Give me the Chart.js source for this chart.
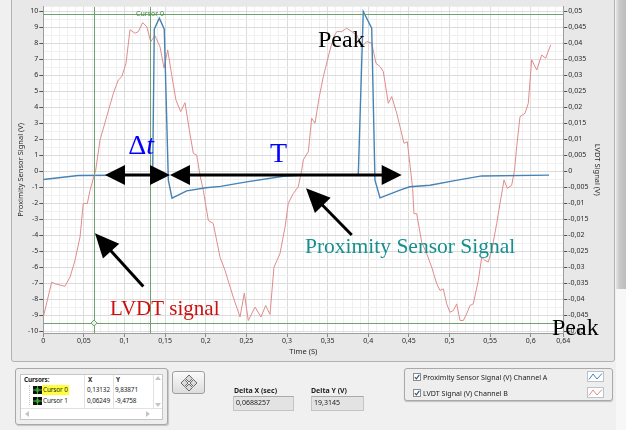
<!DOCTYPE html>
<html>
<head>
<meta charset="utf-8">
<script src="https://cdn.jsdelivr.net/npm/chart.js@4.4.1/dist/chart.umd.min.js"></script>
<style>
  html, body { margin: 0; padding: 0; }
  body { width: 626px; height: 430px; background: #f0f0f0; position: relative; overflow: hidden;
         font-family: 'Noto Sans', sans-serif; color: #1c1c1c; }
  .abs { position: absolute; }
  .txt { position: absolute; font-size: 7px; line-height: 10px; white-space: nowrap; }
  .b { font-weight: bold; }
  #chart { position: absolute; left: 0; top: 0; }
</style>
</head>
<body>
<!-- graph panel and side strip -->
<div class="abs" style="left:11px;top:-2px;width:602px;height:362px;background:#e8e8e8;border:1px solid #b3b3b3;border-radius:0 0 3px 3px"></div>
<div class="abs" style="left:616px;top:0;width:10px;height:289px;background:linear-gradient(to right,#e4e4e4,#c9c9c9 35%,#bdbdbd)"></div>
<div class="abs" style="left:616px;top:289px;width:10px;height:141px;background:#f7f7f7"></div>

<canvas id="chart" width="626" height="430"></canvas>

<!-- cursor list -->
<div class="abs" style="left:15px;top:368px;width:151px;height:55px;border:1px solid #a8a8a8;border-radius:3px;background:#eeeeee;box-shadow:1px 1px 1px rgba(0,0,0,.18)"></div>
<div class="abs" id="cursorTable" style="left:20px;top:374px;width:141px;height:44px;background:#fff;border:1px solid #c6c6c6"></div>

<!-- cursor move button -->
<div class="abs" style="left:172px;top:371px;width:31px;height:21px;border:1px solid #9f9f9f;border-radius:3px;background:linear-gradient(#fbfbfb,#dcdcdc)">
  <svg class="abs" style="left:7px;top:2px" width="18" height="18" viewBox="0 0 18 18">
    <g fill="#dadada" stroke="#4d4d4d" stroke-width="0.8">
      <path d="M9 1 L12.5 4.5 L9 8 L5.5 4.5Z"/><path d="M13.5 5.5 L17 9 L13.5 12.5 L10 9Z"/>
      <path d="M9 10 L12.5 13.5 L9 17 L5.5 13.5Z"/><path d="M4.5 5.5 L8 9 L4.5 12.5 L1 9Z"/>
    </g>
  </svg>
</div>

<!-- delta readouts -->
<div class="txt b" style="left:234px;top:386px">Delta X (sec)</div>
<div class="abs" style="left:233px;top:396px;width:59px;height:13px;background:#e3e3e3;border:1px solid #c4c4c4;border-top-color:#a9a9a9"></div>
<div class="txt" id="dx" style="left:236px;top:398px"></div>
<div class="txt b" style="left:311px;top:386px">Delta Y (V)</div>
<div class="abs" style="left:311px;top:396px;width:51px;height:13px;background:#e3e3e3;border:1px solid #c4c4c4;border-top-color:#a9a9a9"></div>
<div class="txt" id="dy" style="left:314px;top:398px"></div>

<!-- plot legend -->
<div class="abs" id="legendBox" style="left:404px;top:368px;width:207px;height:31px;border:1px solid #a9a9a9;border-radius:3px;background:#eeeeee;box-shadow:0 1px 1px rgba(0,0,0,.2)"></div>

<script>
// Proximity sensor channel (V), plotted on the left axis
const proxTime = [0, 0.043, 0.1346, 0.1366, 0.1428, 0.1489, 0.1539, 0.1584, 0.1765, 0.2,
                  0.218, 0.2503, 0.2954, 0.32, 0.3877, 0.3938, 0.4042, 0.4082, 0.4144, 0.439,
                  0.451, 0.476, 0.5046, 0.5396, 0.6225];
const proxSignal = [-0.5, -0.25, -0.22, 8.9, 9.58, 8.89, -0.55, -1.67, -1.21, -1.02,
                    -0.93, -0.65, -0.3, -0.23, -0.2, 10.0, 8.95, -0.55, -1.65, -1.17,
                    -0.96, -0.86, -0.59, -0.28, -0.23];

// LVDT channel (V), plotted on the right axis
const lvdtTime = [0, 0.0103, 0.0144, 0.0267, 0.0329, 0.039, 0.0452, 0.0492, 0.0542, 0.0575,
                  0.0645, 0.0698, 0.078, 0.0862, 0.0923, 0.0965, 0.1018, 0.1067, 0.1129, 0.1169,
                  0.1223, 0.1273, 0.1322, 0.1375, 0.1436, 0.1486, 0.1531, 0.158, 0.1633, 0.1691,
                  0.1744, 0.1797, 0.1846, 0.1888, 0.1929, 0.1969, 0.2031, 0.2092, 0.2175, 0.2236,
                  0.2338, 0.2421, 0.2474, 0.2523, 0.2606, 0.2679, 0.2737, 0.279, 0.2839, 0.2913,
                  0.2975, 0.3015, 0.3077, 0.3138, 0.318, 0.32, 0.3262, 0.3303, 0.3344, 0.3397,
                  0.3446, 0.3529, 0.3578, 0.3611, 0.3673, 0.3734, 0.3796, 0.3857, 0.3919, 0.398,
                  0.4042, 0.4095, 0.4144, 0.4185, 0.4246, 0.4288, 0.435, 0.439, 0.4439, 0.448,
                  0.4534, 0.4546, 0.4562, 0.4596, 0.4657, 0.4719, 0.478, 0.4842, 0.4882, 0.4923,
                  0.4965, 0.5005, 0.5046, 0.5088, 0.5129, 0.5169, 0.5211, 0.5252, 0.5292, 0.5354,
                  0.5396, 0.5436, 0.5477, 0.5519, 0.558, 0.5621, 0.567, 0.5711, 0.5765, 0.58,
                  0.5826, 0.5867, 0.5929, 0.5969, 0.6011, 0.6073, 0.6134, 0.6183, 0.6245];
const lvdtSignal = [-0.0455, -0.0346, -0.0351, -0.0359, -0.0330, -0.0278, -0.0205, -0.0100, -0.0100, -0.0059,
                    0.0004, 0.0098, 0.0171, 0.0244, 0.0286, 0.0296, 0.0338, 0.0443, 0.0432, 0.0437,
                    0.0465, 0.0453, 0.0406, 0.0424, 0.0390, 0.0323, 0.0380, 0.0302, 0.0223, 0.0187,
                    0.0215, 0.0130, 0.0057, 0.0051, -0.0012, -0.0059, -0.0153, -0.0163, -0.0268, -0.0309,
                    -0.0393, -0.0455, -0.0380, -0.0466, -0.0424, -0.0455, -0.0419, -0.0447, -0.0299, -0.0257,
                    -0.0174, -0.0100, -0.0069, -0.0048, 0.0004, 0.0036, 0.0062, 0.0166, 0.0151, 0.0234,
                    0.0296, 0.0380, 0.0422, 0.0437, 0.0437, 0.0448, 0.0437, 0.0427, 0.0390, 0.0406,
                    0.0401, 0.0338, 0.0328, 0.0312, 0.0213, 0.0234, 0.0182, 0.0140, 0.0088, 0.0093,
                    -0.0027, -0.0053, -0.0132, -0.0132, -0.0221, -0.0257, -0.0299, -0.0351, -0.0372, -0.0367,
                    -0.0414, -0.0440, -0.0435, -0.0414, -0.0466, -0.0466, -0.0445, -0.0419, -0.0414, -0.0341,
                    -0.0268, -0.0278, -0.0283, -0.0247, -0.0163, -0.0100, -0.0027, -0.0053, -0.0043, 0.0004,
                    0.0077, 0.0171, 0.0182, 0.0213, 0.0349, 0.0317, 0.0364, 0.0354, 0.0396];

// labelled ticks
const timeLabels = [0, 0.05, 0.1, 0.15, 0.2, 0.25, 0.3, 0.35, 0.4, 0.45, 0.5, 0.55, 0.6, 0.64];
const proxTicks = [-10, -9, -8, -7, -6, -5, -4, -3, -2, -1, 0, 1, 2, 3, 4, 5, 6, 7, 8, 9, 10];
const lvdtTicks = [-0.05, -0.045, -0.04, -0.035, -0.03, -0.025, -0.02, -0.015, -0.01, -0.005, 0,
                   0.005, 0.01, 0.015, 0.02, 0.025, 0.03, 0.035, 0.04, 0.045, 0.05];

// cursors (X in s, Y in V on the proximity axis)
const cursorNames = ['Cursor 0', 'Cursor 1'];
const cursorX = [0.13132, 0.06249];
const cursorY = [9.83871, -9.4758];
const deltaX = 0.0688257;
const deltaY = 19.3145;

// grid subdivisions: 0.01 s and 0.5 V
const timeGrid = Array.from({length: 65}, (_, i) => i / 100);
const proxGrid = Array.from({length: 41}, (_, i) => -10 + i / 2);

const fmt = v => String(Math.round(v * 1e6) / 1e6).replace('.', ',');
const decimalComma = v => String(v).replace('.', ',');
const near = (a, b) => Math.abs(a - b) < 1e-9;
const isMajorTime = v => timeLabels.some(t => near(t, v));
const isMajorProx = v => proxTicks.some(t => near(t, v));

const tickFont = {family: 'Noto Sans', size: 7};
const titleFont = {family: 'Noto Sans', size: 7.5};
const TRANSPARENT = 'rgba(0,0,0,0)';

const plotBackground = {
  id: 'plotBackground',
  beforeDraw(chart) {
    const {ctx, chartArea: a} = chart;
    ctx.save();
    ctx.fillStyle = '#ffffff';
    ctx.fillRect(a.left, a.top, a.right - a.left, a.bottom - a.top);
    ctx.restore();
  }
};

const cursorLayer = {
  id: 'cursorLayer',
  afterDatasetsDraw(chart) {
    const {ctx, chartArea: a, scales: {x, y}} = chart;
    ctx.save();
    ctx.beginPath();
    ctx.rect(a.left, a.top, a.right - a.left, a.bottom - a.top);
    ctx.clip();
    ctx.strokeStyle = '#6fa26f';
    ctx.lineWidth = 1;
    cursorX.forEach((cx, i) => {
      const px = Math.round(x.getPixelForValue(cx)) + 0.5;
      const py = Math.round(y.getPixelForValue(cursorY[i])) + 0.5;
      ctx.beginPath();
      ctx.moveTo(px, a.top); ctx.lineTo(px, a.bottom);
      ctx.moveTo(a.left, py); ctx.lineTo(a.right, py);
      ctx.stroke();
    });
    // cursor 1 point marker
    const mx = x.getPixelForValue(cursorX[1]);
    const my = y.getPixelForValue(cursorY[1]);
    ctx.fillStyle = '#e8f2e8';
    ctx.beginPath();
    ctx.moveTo(mx, my - 3); ctx.lineTo(mx + 3, my); ctx.lineTo(mx, my + 3); ctx.lineTo(mx - 3, my);
    ctx.closePath(); ctx.fill(); ctx.stroke();
    // cursor 0 name tag
    ctx.font = '7px "Noto Sans"';
    ctx.fillStyle = '#3f8a3f';
    ctx.textAlign = 'center';
    ctx.textBaseline = 'middle';
    ctx.fillText(cursorNames[0], x.getPixelForValue(cursorX[0]), y.getPixelForValue(cursorY[0]));
    ctx.restore();
  }
};

function arrowHead(ctx, tx, ty, fx, fy, len, half) {
  const ang = Math.atan2(ty - fy, tx - fx);
  const bx = tx - len * Math.cos(ang), by = ty - len * Math.sin(ang);
  ctx.beginPath();
  ctx.moveTo(tx, ty);
  ctx.lineTo(bx + half * Math.sin(ang), by - half * Math.cos(ang));
  ctx.lineTo(bx - half * Math.sin(ang), by + half * Math.cos(ang));
  ctx.closePath();
  ctx.fill();
}

function arrow(ctx, x1, y1, x2, y2, both, len, half) {
  const ang = Math.atan2(y2 - y1, x2 - x1);
  const sx = both ? x1 + len * 0.8 * Math.cos(ang) : x1;
  const sy = both ? y1 + len * 0.8 * Math.sin(ang) : y1;
  ctx.beginPath();
  ctx.moveTo(sx, sy);
  ctx.lineTo(x2 - len * 0.8 * Math.cos(ang), y2 - len * 0.8 * Math.sin(ang));
  ctx.stroke();
  arrowHead(ctx, x2, y2, x1, y1, len, half);
  if (both) arrowHead(ctx, x1, y1, x2, y2, len, half);
}

const annotationLayer = {
  id: 'annotationLayer',
  afterDraw(chart) {
    const {ctx, scales: {x, y}} = chart;
    const P = (t, v) => [x.getPixelForValue(t), y.getPixelForValue(v)];
    ctx.save();
    ctx.strokeStyle = '#000';
    ctx.fillStyle = '#000';
    ctx.lineWidth = 3;
    // Δt and period arrows
    arrow(ctx, ...P(0.0759, -0.22), ...P(0.1559, -0.22), true, 20, 10);
    arrow(ctx, ...P(0.1559, -0.22), ...P(0.4411, -0.22), true, 20, 10);
    // pointers to the curves
    arrow(ctx, ...P(0.1231, -7.2), ...P(0.0636, -3.87), false, 24, 11);
    arrow(ctx, ...P(0.3796, -3.97), ...P(0.3233, -1.05), false, 24, 11);

    ctx.textAlign = 'left';
    ctx.textBaseline = 'alphabetic';
    ctx.fillStyle = '#0000ff';
    ctx.font = '28px "Liberation Serif"';
    let [tx, ty] = P(0.1044, 1.09);
    ctx.fillText('Δ', tx, ty);
    const dw = ctx.measureText('Δ').width;
    ctx.font = 'italic 28px "Liberation Serif"';
    ctx.fillText('t', tx + dw, ty);
    ctx.font = '28px "Liberation Serif"';
    ctx.fillText('T', ...P(0.279, 0.59));

    ctx.fillStyle = '#000';
    ctx.font = '24px "Liberation Serif"';
    ctx.fillText('Peak', ...P(0.3381, 7.78));
    ctx.fillText('Peak', ...P(0.6261, -10.22));

    ctx.fillStyle = '#cc1010';
    ctx.font = '21px "Liberation Serif"';
    ctx.fillText('LVDT signal', ...P(0.0821, -8.98));

    ctx.fillStyle = '#168f8f';
    ctx.font = '21.5px "Liberation Serif"';
    ctx.fillText('Proximity Sensor Signal', ...P(0.3221, -5.1));
    ctx.restore();
  }
};

const chart = new Chart(document.getElementById('chart'), {
  type: 'line',
  data: {
    datasets: [
      {
        label: 'Proximity Sensor Signal (V) Channel A',
        data: proxTime.map((t, i) => ({x: t, y: proxSignal[i]})),
        yAxisID: 'y',
        borderColor: '#4682b4',
        borderWidth: 1.4
      },
      {
        label: 'LVDT Signal (V)  Channel B',
        data: lvdtTime.map((t, i) => ({x: t, y: lvdtSignal[i]})),
        yAxisID: 'y2',
        borderColor: '#e08c8c',
        borderWidth: 1
      }
    ]
  },
  options: {
    responsive: false,
    devicePixelRatio: 1,
    animation: false,
    events: [],
    layout: {padding: {left: 0, top: 6.7, right: 11, bottom: 68}},
    elements: {point: {radius: 0}, line: {tension: 0}},
    plugins: {legend: {display: false}, tooltip: {enabled: false}},
    scales: {
      x: {
        type: 'linear', min: 0, max: 0.64,
        afterBuildTicks: s => { s.ticks = timeGrid.map(v => ({value: v})); },
        afterFit: s => { s.height = 29; },
        ticks: {autoSkip: false, maxRotation: 0, minRotation: 0, padding: 0, font: tickFont, color: '#2a2a2a',
                callback: v => isMajorTime(v) ? fmt(v) : ''},
        grid: {
          color: c => (c.tick && !isMajorTime(c.tick.value)) ? '#f0f0f0' : '#dcdcdc',
          tickColor: c => (c.tick && isMajorTime(c.tick.value)) ? '#8a8a8a' : TRANSPARENT,
          tickLength: 4
        },
        border: {color: '#9c9c9c'},
        title: {display: true, text: 'Time (S)', font: titleFont, color: '#2a2a2a', padding: {top: 0, bottom: 5.5}}
      },
      y: {
        position: 'left', min: -10.1, max: 10.3,
        afterBuildTicks: s => { s.ticks = proxGrid.map(v => ({value: v})); },
        afterFit: s => { s.width = 43.3; },
        ticks: {autoSkip: false, padding: 1, font: tickFont, color: '#2a2a2a',
                callback: v => isMajorProx(v) ? fmt(v) : ''},
        grid: {
          color: c => (c.tick && !isMajorProx(c.tick.value)) ? '#f0f0f0' : '#dcdcdc',
          tickColor: c => (c.tick && isMajorProx(c.tick.value)) ? '#555555' : TRANSPARENT,
          tickLength: 4
        },
        border: {color: '#9c9c9c'},
        title: {display: true, text: 'Proximity Sensor Signal (V)', font: titleFont, color: '#2a2a2a', padding: {top: 16.5, bottom: 0}}
      },
      y2: {
        position: 'right', min: -0.0505, max: 0.0515,
        afterBuildTicks: s => { s.ticks = lvdtTicks.map(v => ({value: v})); },
        afterFit: s => { s.width = 51.7; },
        ticks: {autoSkip: false, padding: 1, font: tickFont, color: '#2a2a2a', callback: v => fmt(v)},
        grid: {drawOnChartArea: false, tickColor: '#555555', tickLength: 4},
        border: {color: '#9c9c9c'},
        title: {display: true, text: 'LVDT Signal (V)', font: titleFont, color: '#2a2a2a', padding: {top: 13, bottom: 0}}
      }
    }
  },
  plugins: [plotBackground, cursorLayer, annotationLayer]
});

// ---- cursor list ----
const table = document.getElementById('cursorTable');
function put(parent, html, css) {
  const d = document.createElement('div');
  d.className = 'txt';
  d.style.cssText = css;
  d.innerHTML = html;
  parent.appendChild(d);
  return d;
}
const cell = 'font-size:6.4px;letter-spacing:-0.1px;';
// coordinates inside the table box (origin at 21,375)
put(table, 'Cursors:', 'left:3px;top:0px;font-weight:bold;' + cell);
put(table, 'X', 'left:67px;top:0px;font-weight:bold;' + cell);
put(table, 'Y', 'left:95px;top:0px;font-weight:bold;' + cell);
put(table, '', 'left:63px;top:0;width:1px;height:33px;background:#e2e2e2');
put(table, '', 'left:92px;top:0;width:1px;height:33px;background:#e2e2e2');
put(table, '', 'left:132px;top:0;width:1px;height:33px;background:#e2e2e2');
put(table, '', 'left:0;top:33px;width:141px;height:1px;background:#e2e2e2');
put(table, '', 'left:8px;top:10px;width:1px;height:20px;border-left:1px dotted #c8c8c8');
cursorNames.forEach((name, i) => {
  const top = 10 + i * 11;
  put(table, '<svg width="9" height="8"><rect width="9" height="8" fill="#111"/><path d="M4.5 0V8M0 4H9" stroke="#3cb43c" stroke-width="1"/><circle cx="4.5" cy="4" r="1.6" fill="none" stroke="#3cb43c" stroke-width="0.8"/></svg>',
      `left:12px;top:${top + 1}px;height:8px;line-height:0`);
  put(table, name, `left:21px;top:${top}px;padding:0 1px;` + cell + (i === 0 ? 'background:#ffff3c' : ''));
  put(table, decimalComma(cursorX[i]), `left:66px;top:${top}px;` + cell);
  put(table, decimalComma(cursorY[i]), `left:94px;top:${top}px;` + cell);
});
// scroll arrows
put(table, '<svg width="6" height="4"><path d="M0 4L3 0L6 4Z" fill="#c4c4c4"/></svg>', 'left:134px;top:1px;line-height:0');
put(table, '<svg width="6" height="4"><path d="M0 0L3 4L6 0Z" fill="#c4c4c4"/></svg>', 'left:134px;top:28px;line-height:0');
put(table, '<svg width="4" height="6"><path d="M4 0L0 3L4 6Z" fill="#c4c4c4"/></svg>', 'left:4px;top:36px;line-height:0');
put(table, '<svg width="4" height="6"><path d="M0 0L4 3L0 6Z" fill="#c4c4c4"/></svg>', 'left:125px;top:36px;line-height:0');

document.getElementById('dx').textContent = decimalComma(deltaX);
document.getElementById('dy').textContent = decimalComma(deltaY);

// ---- plot legend ----
const legend = document.getElementById('legendBox');
chart.data.datasets.forEach((ds, i) => {
  const top = 3 + i * 16;
  put(legend, '<svg width="8" height="8"><rect x="0.5" y="0.5" width="7" height="7" fill="#fff" stroke="#8c8c8c"/><path d="M1.8 4.2L3.4 5.9L6.3 1.9" fill="none" stroke="#2a4f86" stroke-width="1.1"/></svg>',
      `left:8px;top:${top + 1}px;line-height:0`);
  put(legend, ds.label, `left:18px;top:${top}px;font-size:7.1px`);
  put(legend, `<svg width="17" height="11"><rect x="0.5" y="0.5" width="16" height="10" fill="#fff" stroke="#b9c3cc"/><polyline points="2,8.5 6,3 10,8 15,2.5" fill="none" stroke="${ds.borderColor}" stroke-width="1"/></svg>`,
      `left:182px;top:${top - 1}px;line-height:0`);
});
</script>
</body>
</html>
